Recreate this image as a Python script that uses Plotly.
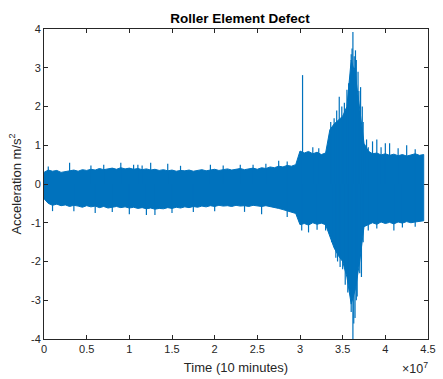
import plotly.graph_objects as go

# time in units of 1e7 (as shown on the axis with the x10^7 multiplier)
time_e7 = [round(i * 0.05, 2) for i in range(90)]

upper = [0.30, 0.36, 0.33, 0.35, 0.30, 0.32, 0.34, 0.36, 0.33, 0.37,
         0.35, 0.38, 0.36, 0.40, 0.37, 0.39, 0.41, 0.38, 0.42, 0.39,
         0.41, 0.38, 0.40, 0.37, 0.39, 0.36, 0.38, 0.35, 0.37, 0.34,
         0.36, 0.33, 0.35, 0.34, 0.36, 0.33, 0.35, 0.37, 0.34, 0.36,
         0.38, 0.35, 0.37, 0.39, 0.36, 0.38, 0.40, 0.37, 0.39, 0.41,
         0.38, 0.42, 0.40, 0.44, 0.42, 0.46, 0.44, 0.48, 0.46, 0.50,
         0.85, 0.80, 0.84, 0.78, 0.82, 0.76, 0.80, 1.40, 1.55, 1.65,
         1.75, 2.00, 3.20, 2.80, 1.90, 1.05, 0.85, 0.78, 0.80, 0.75,
         0.78, 0.74, 0.77, 0.73, 0.76, 0.72, 0.75, 0.78, 0.74, 0.76]

lower = [-0.38, -0.50, -0.55, -0.52, -0.56, -0.54, -0.58, -0.55, -0.57, -0.60,
         -0.56, -0.59, -0.57, -0.61, -0.58, -0.62, -0.60, -0.58, -0.61, -0.59,
         -0.62, -0.60, -0.63, -0.61, -0.64, -0.62, -0.65, -0.63, -0.64, -0.61,
         -0.63, -0.60, -0.62, -0.59, -0.61, -0.58, -0.60, -0.57, -0.59, -0.56,
         -0.58, -0.55, -0.57, -0.56, -0.58, -0.55, -0.57, -0.56, -0.58, -0.55,
         -0.57, -0.58, -0.56, -0.59, -0.60, -0.63, -0.66, -0.70, -0.72, -0.76,
         -1.05, -1.02, -1.06, -1.00, -1.04, -1.01, -1.05, -1.35, -1.65, -1.85,
         -2.00, -2.40, -3.10, -2.70, -2.00, -1.10, -1.05, -1.00, -1.04, -0.98,
         -1.02, -0.99, -1.03, -0.98, -1.01, -0.97, -1.00, -0.98, -0.96, -0.95]

spike_t = [0.05, 0.30, 0.55, 0.70, 0.90, 1.05, 1.10, 1.15, 1.25, 1.45, 1.60, 1.95,
           2.10, 2.30, 2.45, 2.60, 2.75, 2.85, 3.03, 3.15, 3.22, 3.36, 3.40, 3.43,
           3.46, 3.49, 3.52, 3.55, 3.57, 3.58, 3.60, 3.61, 3.62, 3.635, 3.64, 3.65,
           3.66, 3.68, 3.69, 3.71, 3.73, 3.74, 3.78, 3.80, 3.85, 3.90, 3.95, 4.00,
           4.05, 4.15, 4.25, 4.35,
           0.10, 0.35, 0.60, 0.80, 1.00, 1.20, 1.30, 1.50, 1.75, 2.00, 2.35, 2.55,
           2.85, 3.02, 3.10, 3.20, 3.30, 3.37, 3.42, 3.44, 3.47, 3.50, 3.53, 3.56,
           3.58, 3.60, 3.62, 3.63, 3.645, 3.66, 3.67, 3.70, 3.72, 3.74, 3.80, 3.90,
           4.10, 4.20, 4.35]
spike_v = [0.45, 0.55, 0.48, 0.50, 0.55, 0.50, 0.50, 0.48, 0.55, 0.52, 0.47, 0.50,
           0.48, 0.50, 0.50, 0.52, 0.60, 0.58, 2.81, 0.95, 0.92, 1.60, 1.70, 1.90,
           2.25, 2.00, 2.10, 2.43, 2.60, 2.30, 3.35, 3.50, 3.92, 3.30, 3.00, 3.45,
           3.20, 2.90, 2.40, 2.50, 2.00, 1.60, 1.15, 0.95, 1.10, 1.15, 0.95, 1.05,
           1.05, 0.92, 1.00, 0.90,
           -0.70, -0.70, -0.75, -0.72, -0.78, -0.80, -0.80, -0.75, -0.72, -0.70, -0.72, -0.78,
           -0.85, -1.20, -1.25, -1.18, -1.20, -1.50, -1.90, -2.00, -2.14, -2.20, -2.60, -2.80,
           -2.70, -3.30, -4.00, -3.60, -3.46, -3.00, -2.90, -2.30, -2.40, -1.50, -1.20, -1.15,
           -1.20, -1.12, -1.10]

x_ticks = [0, 0.5, 1, 1.5, 2, 2.5, 3, 3.5, 4, 4.5]
y_ticks = [-4, -3, -2, -1, 0, 1, 2, 3, 4]

SCALE = 1e7
BLUE = "#0072BD"
AX = "#262626"

t_raw = [t * SCALE for t in time_e7]

fig = go.Figure()
fig.add_trace(go.Scatter(
    x=t_raw + t_raw[::-1], y=upper + lower[::-1],
    fill="toself", fillcolor=BLUE, mode="lines",
    line=dict(color=BLUE, width=1), hoverinfo="skip", showlegend=False))

sx, sy = [], []
for t, v in zip(spike_t, spike_v):
    sx += [t * SCALE, t * SCALE, None]
    sy += [0, v, None]
fig.add_trace(go.Scatter(x=sx, y=sy, mode="lines",
                         line=dict(color=BLUE, width=1.2), showlegend=False))

fig.update_layout(
    width=443, height=379,
    margin=dict(l=44, r=7, t=29, b=40),
    paper_bgcolor="white", plot_bgcolor="white",
    font=dict(family="Liberation Sans, Arial, sans-serif", size=11, color=AX),
    title=dict(text="<b>Roller Element Defect</b>", x=0.5416, xanchor="center",
               y=0.953, yanchor="middle", font=dict(size=13.5, color="#000000")),
    xaxis=dict(range=[0, 4.5 * SCALE], tickvals=[v * SCALE for v in x_ticks],
               ticktext=[f"{v:g}" for v in x_ticks], ticklabeloverflow="allow",
               showline=True, mirror="ticks", linecolor=AX, linewidth=1,
               ticks="inside", ticklen=4, tickcolor=AX, showgrid=False, zeroline=False,
               title=dict(text="Time (10 minutes)", font=dict(size=13), standoff=8)),
    yaxis=dict(range=[-4, 4], tickvals=y_ticks, ticktext=[str(v) for v in y_ticks],
               showline=True, mirror="ticks", linecolor=AX, linewidth=1,
               ticks="inside", ticklen=4, tickcolor=AX, showgrid=False, zeroline=False,
               title=dict(text="Acceleration m/s<sup>2</sup>", font=dict(size=13), standoff=6)),
)
fig.add_annotation(text="×10<sup>7</sup>", xref="paper", yref="paper",
                   x=1.004, y=-0.126, xanchor="right", yanchor="bottom",
                   showarrow=False, font=dict(size=12.5, color=AX))

fig.write_html("out.html")
